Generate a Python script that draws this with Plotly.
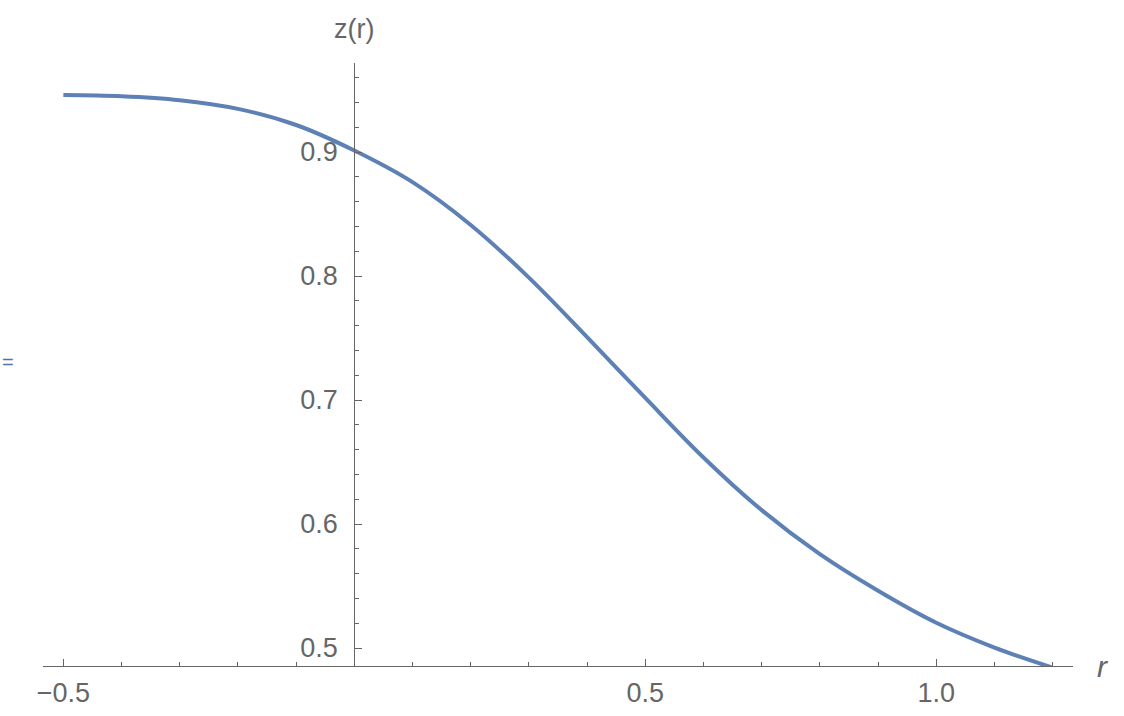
import plotly.graph_objects as go

# curve values
r_vals = [-0.5, -0.4, -0.3, -0.2, -0.1, 0.0, 0.1, 0.2, 0.3, 0.4, 0.5,
          0.6, 0.7, 0.8, 0.9, 1.0, 1.1, 1.2]
z_vals = [0.9460, 0.9450, 0.9418, 0.9348, 0.9218, 0.9012, 0.8757, 0.8412,
          0.7987, 0.7507, 0.7017, 0.6537, 0.6112, 0.5757, 0.5462, 0.5204,
          0.5004, 0.4842]

x_tickvals = [-0.5, 0.5, 1.0]
x_ticktext = ['\u22120.5', '0.5', '1.0']
y_tickvals = [0.5, 0.6, 0.7, 0.8, 0.9]

X_RANGE = [-0.535, 1.235]
Y_RANGE = [0.4855, 0.9718]

LINE_BLUE = '#5E81B5'
AXIS_GRAY = '#666666'
TEXT_GRAY = '#666666'
FONT = 'Liberation Sans, Arial, sans-serif'

fig = go.Figure(go.Scatter(
    x=r_vals, y=z_vals, mode='lines',
    line=dict(color=LINE_BLUE, width=4, shape='spline', smoothing=1.0),
    hoverinfo='x+y', showlegend=False
))

# y axis crosses at r = 0
y_pos = (0 - X_RANGE[0]) / (X_RANGE[1] - X_RANGE[0])

fig.update_layout(
    width=1124, height=716,
    margin=dict(l=43, r=51, t=63, b=50),
    plot_bgcolor='white', paper_bgcolor='white',
    font=dict(family=FONT, size=27, color=TEXT_GRAY),
    xaxis=dict(range=X_RANGE, showgrid=False, zeroline=False, automargin=False,
               showline=True, linecolor=AXIS_GRAY, linewidth=1.2,
               tickmode='array', tickvals=x_tickvals, ticktext=x_ticktext,
               ticks='inside', ticklen=7, tickcolor=AXIS_GRAY, tickwidth=1,
               ticklabelstandoff=2,
               minor=dict(ticks='inside', ticklen=4, tick0=0, dtick=0.1,
                          tickcolor=AXIS_GRAY, tickwidth=1)),
    yaxis=dict(range=Y_RANGE, showgrid=False, zeroline=False, automargin=False,
               anchor='free', position=y_pos,
               showline=True, linecolor=AXIS_GRAY, linewidth=1.2,
               tickmode='array', tickvals=y_tickvals, tickformat='.1f',
               ticks='inside', ticklen=7, tickcolor=AXIS_GRAY, tickwidth=1,
               ticklabelstandoff=11,
               minor=dict(ticks='inside', ticklen=4, tick0=0, dtick=0.02,
                          tickcolor=AXIS_GRAY, tickwidth=1)),
    annotations=[
        dict(text='z(r)', xref='x', yref='paper', x=0, y=1.0,
             xanchor='center', yanchor='bottom', yshift=17, showarrow=False,
             font=dict(size=27, color=TEXT_GRAY, family=FONT)),
        dict(text='<i>r</i>', xref='paper', yref='y', x=1.0, y=Y_RANGE[0],
             xanchor='left', yanchor='middle', xshift=22, showarrow=False,
             font=dict(size=30, color=TEXT_GRAY, family=FONT)),
        dict(text='=', xref='paper', yref='paper', x=-0.0417, y=0.504,
             xanchor='left', yanchor='middle', showarrow=False,
             font=dict(size=20, color='#4F73A8', family=FONT)),
    ]
)

fig.write_html('out.html', config={'displayModeBar': False},
               post_script="document.body.style.margin='0px';")
